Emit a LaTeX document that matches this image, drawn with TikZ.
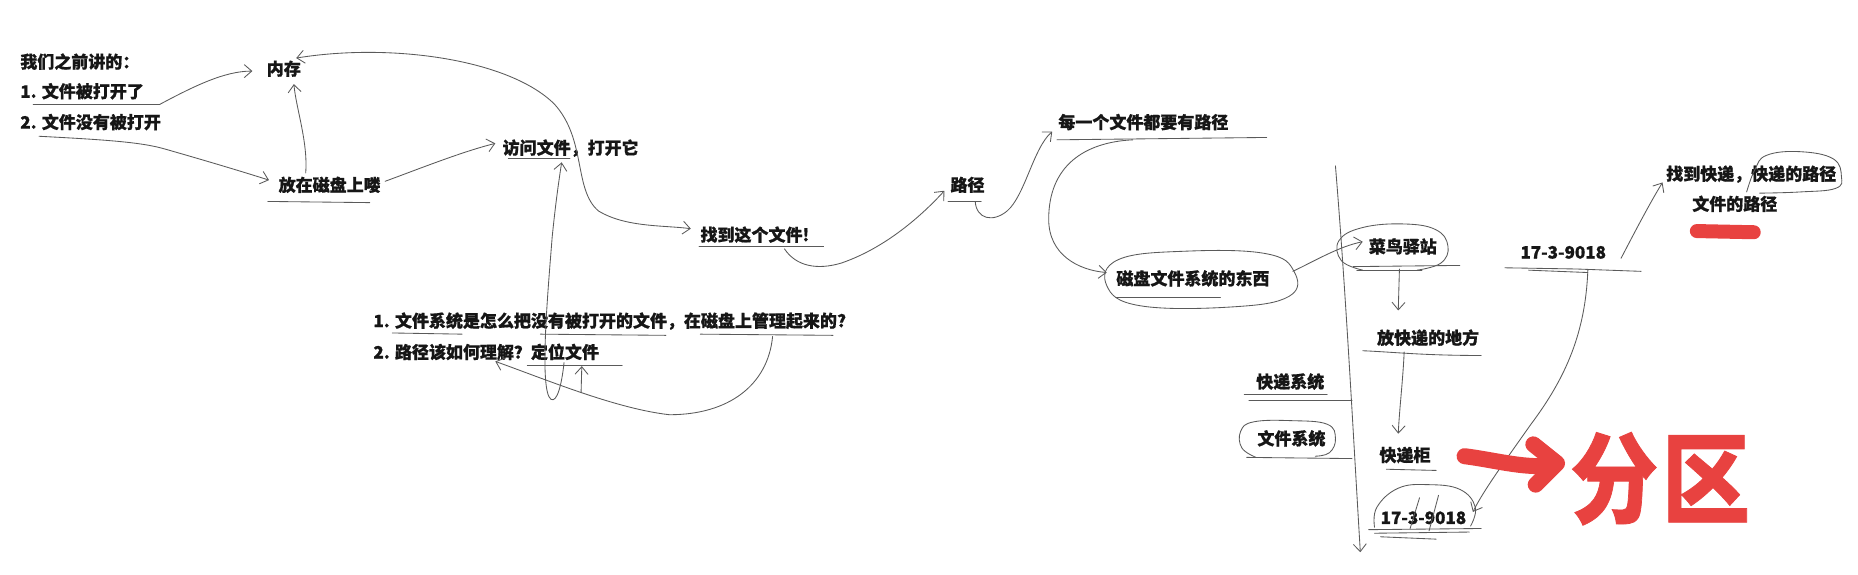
\documentclass[tikz,border=0pt]{standalone}
\usepackage{fontspec}
\setmainfont{Noto Sans CJK SC}[BoldFeatures={FakeBold=0.8}]
\usetikzlibrary{arrows.meta,calc}
\definecolor{redpen}{RGB}{232,66,64}
\definecolor{ink}{RGB}{22,22,22}
\definecolor{pencil}{RGB}{90,90,90}
\begin{document}
\begin{tikzpicture}[x=1.18495pt,y=-1.18495pt,
  txt/.style={font=\fontsize{17}{20}\selectfont\bfseries, inner sep=0pt, anchor=west, text=ink},
  ln/.style={draw=pencil, line width=0.85pt, line cap=round, line join=round},
  tip/.style={-{Straight Barb[length=7.5pt,width=13pt,line width=0.85pt]}},
  arr/.style={ln, tip},
  ul/.style={ln},
  loopy/.style={ln},
  redink/.style={draw=redpen, line cap=round, line join=round, line width=16pt},
]
\useasboundingbox[fill=white] (0,0) rectangle (1568,485);

% ---------- texts ----------
\node[txt] (intro) at (17,52) {我们之前讲的：};
\node[txt] (l1) at (17,77) {1. 文件被打开了};
\node[txt] (l2) at (17,103) {2. 文件没有被打开};
\node[txt] (mem) at (225,58) {内存};
\node[txt] (disk) at (235,156) {放在磁盘上喽};
\node[txt] (visit) at (424,125) {访问文件，打开它};
\node[txt] (find) at (591,198) {找到这个文件!};
\node[txt] (q1) at (315,271) {1. 文件系统是怎么把没有被打开的文件，在磁盘上管理起来的?};
\node[txt] (q2) at (315,297) {2. 路径该如何理解？定位文件};
\node[txt] (path) at (802,156) {路径};
\node[txt] (every) at (893,103) {每一个文件都要有路径};
\node[txt] (dfs) at (942,235) {磁盘文件系统的东西};
\node[txt] (cainiao) at (1155,208) {菜鸟驿站};
\node[txt] (numa) at (1283,213) {17-3-9018};
\node[txt] (findexp) at (1406,147) {找到快递，快递的路径};
\node[txt] (fpath) at (1428,172) {文件的路径};
\node[txt] (place) at (1162,285) {放快递的地方};
\node[txt] (expsys) at (1060,322) {快递系统};
\node[txt] (fsys) at (1061,370) {文件系统};
\node[txt] (cabinet) at (1164,384) {快递柜};
\node[txt] (numb) at (1165,437) {17-3-9018};
\node[font=\fontsize{88}{88}\selectfont\bfseries, text=redpen, inner sep=0pt] (fenqu) at (1401,404)
  {\scalebox{1}[1.12]{分\kern 4pt 区}};

% ---------- underlines ----------
\draw[ul] (28,88) -- (135,88);
\draw[ul] (226,170) -- (312,171);
\draw[ul] (429,134) -- (481,134);
\draw[ul] (590,208) -- (695,208);
\draw[ul] (331,281) -- (390,282);
\draw[ul] (456,282) -- (562,283);
\draw[ul] (591,282) -- (703,283);
\draw[ul] (445,308) -- (525,308);
\draw[ul] (800,170) -- (828,170);
\draw[ul] (892,118) -- (1069,116);
\draw[ul] (942,251) -- (1030,251);
\draw[ul] (1142,225) -- (1232,224);
\draw[ul] (1145,228) -- (1200,228);
\draw[ul] (1270,226) -- (1330,227) -- (1385,229);
\draw[ul] (1290,228) -- (1340,230);
\draw[ul] (1150,296) .. controls (1175,297) and (1200,300) .. (1250,300);
\draw[ul] (1050,333) -- (1120,333);
\draw[ul] (1054,338) -- (1141,338);
\draw[ul] (1052,386) -- (1141,387);
\draw[ul] (1170,396) -- (1212,397);
\draw[ul] (1155,447) -- (1250,446);
\draw[ul] (1160,450) -- (1240,449);
\draw[ul] (1165,453) -- (1212,455);

% ---------- hand drawn loops ----------
\draw[loopy] plot[smooth cycle, tension=0.7] coordinates
  {(934,241) (944,219) (1000,212) (1068,214) (1092,229) (1088,250) (1040,259) (962,258)};
\draw[loopy] plot[smooth, tension=0.7] coordinates
  {(1150,228) (1132,220) (1130,203) (1150,192) (1185,189) (1212,194) (1222,208) (1216,222) (1196,228)};
\draw[loopy] plot[smooth, tension=0.7] coordinates
  {(1474,162) (1481,143) (1491,131) (1519,128) (1547,134) (1554,149) (1549,159) (1519,162) (1485,163)};
\draw[loopy] plot[smooth, tension=0.7] coordinates
  {(1060,386) (1048,378) (1047,364) (1058,356) (1090,355) (1120,358) (1127,370) (1122,382) (1110,385)};
\draw[loopy] plot[smooth, tension=0.7] coordinates
  {(1160,445) (1162,428) (1180,412) (1205,409) (1232,413) (1245,428) (1241,444)};
\draw[ul] (1190,446) -- (1198,420);
\draw[ul] (1206,448) -- (1214,418);

% ---------- connectors ----------
\draw[arr] ($(l1.west)+(118,11)$) .. controls (165,72) and (190,60) .. ($(mem.west)+(-12,2)$);
\draw[arr] ($(l2.west)+(16,12)$) .. controls (90,118) and (120,120) .. (140,126)
  .. controls (175,136) and (205,145) .. ($(disk.west)+(-8,-4)$);
\draw[arr] ($(disk.west)+(23,-10)$) .. controls (260,120) and (250,92) .. ($(mem.west)+(23,13)$);
\draw[arr] ($(disk.west)+(90,-3)$) .. controls (355,142) and (390,128) .. ($(visit.west)+(-6,-4)$);
\draw[ln, {Straight Barb[length=7.5pt,width=13pt,line width=0.85pt]}-{Straight Barb[length=7.5pt,width=13pt,line width=0.85pt]}]
  ($(mem.west)+(25,-9)$) .. controls (330,36) and (430,50) .. (468,88)
  .. controls (495,118) and (484,160) .. (505,178)
  .. controls (528,192) and (560,190) .. ($(find.west)+(-8,-5)$);
\draw[arr] ($(q2.west)+(161,9)$) .. controls (474,325) and (470,340) .. (465,337)
  .. controls (455,330) and (462,250) .. (466,200)
  .. controls (469,170) and (472,150) .. ($(visit.west)+(50,12)$);
\draw[arr] ($(q1.west)+(337,13)$) .. controls (648,325) and (615,350) .. (565,350)
  .. controls (520,345) and (460,320) .. ($(q2.west)+(103,8)$) coordinate[pos=0.5] (branch);
\draw[arr] (branch) -- ($(q2.west)+(176,12)$);
\draw[arr] ($(find.west)+(71,12)$) .. controls (672,225) and (690,228) .. (710,222)
  .. controls (745,210) and (775,185) .. ($(path.west)+(-5,5)$);
\draw[arr] ($(path.west)+(21,14)$) .. controls (824,185) and (838,188) .. (850,178)
  .. controls (865,165) and (872,125) .. ($(every.west)+(-5,8)$);
\draw[arr] ($(every.west)+(63,15)$) .. controls (915,120) and (885,140) .. (885,185)
  .. controls (885,215) and (910,228) .. ($(dfs.west)+(-8,-5)$);
\draw[arr] ($(dfs.west)+(149,-6)$) .. controls (1110,220) and (1130,208) .. ($(cainiao.west)+(-5,-4)$);
\draw[arr] ($(cainiao.west)+(26,19)$) -- ($(place.west)+(18,-23)$);
\draw[arr] ($(place.west)+(23,12)$) .. controls (1184,320) and (1181,345) .. ($(cabinet.west)+(16,-18)$);
\draw[arr] ($(numa.west)+(57,15)$) .. controls (1338,280) and (1322,318) .. (1292,358)
  .. controls (1268,392) and (1252,414) .. ($(numb.west)+(78,-5)$);
\draw[arr] ($(numa.west)+(85,5)$) .. controls (1380,195) and (1392,172) .. ($(findexp.west)+(-3,7)$);

% trunk
\coordinate (trunktop) at (1127,140);
\coordinate (trunkbot) at (1148,466);
\draw[arr] (trunktop) .. controls (1136,250) and (1141,350) .. (trunkbot);

% ---------- red marks ----------
\draw[redink, line width=14pt] (1432,195) -- (1480,196);
\draw[redink] (1236,385) .. controls (1260,388) and (1285,395) .. (1306,393);
\draw[redink] (1294,375) -- (1314,391) -- (1296,409);
\end{tikzpicture}
\end{document}
